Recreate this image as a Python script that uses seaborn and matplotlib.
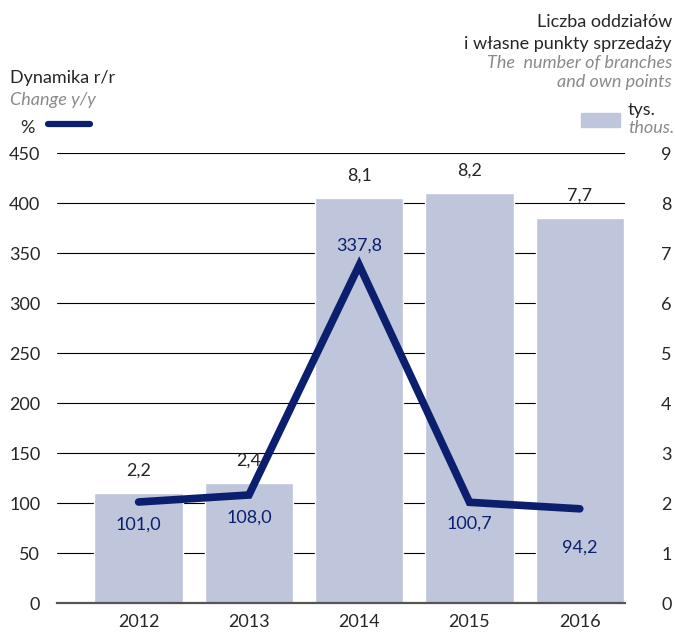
import numpy as np
import pandas as pd
import matplotlib.pyplot as plt
import seaborn as sns

# ---------------------------------------------------------
# Data
# ---------------------------------------------------------
years = ["2012", "2013", "2014", "2015", "2016"]
branches = [2.2, 2.4, 8.1, 8.2, 7.7]           # thous., right axis
change = [101.0, 108.0, 337.8, 100.7, 94.2]     # %, left axis
left_ticks = list(range(0, 451, 50))
right_ticks = list(range(0, 10))

bar_color = "#bfc5da"
line_color = "#0b1f6e"
grey_text = "#8a8a8a"

sns.set_style("white")
plt.rcParams["font.family"] = ["Lato", "DejaVu Sans"]

df = pd.DataFrame({"year": years, "branches": branches,
                   "pos": np.arange(len(years)), "change": change})

fig = plt.figure(figsize=(6.75, 6.32), dpi=100)
ax = fig.add_axes([57 / 675, 1 - 603 / 632, 568 / 675, 450 / 632])

# bars (thousands) on the primary axes so they sit under the line
sns.barplot(data=df, x="year", y="branches", color=bar_color, width=0.8,
            saturation=1, ax=ax)
ax.set_ylim(0, 9)
ax.set_xlim(-0.74, 4.41)
ax.set_yticks(right_ticks)
ax.grid(axis="y", color="black", lw=0.8)
ax.set_axisbelow(True)
for s in ["top", "left", "right"]:
    ax.spines[s].set_visible(False)
ax.spines["bottom"].set_color("#555555")
ax.spines["bottom"].set_linewidth(1.6)
ax.set_xlabel("")
ax.set_ylabel("")

for i, v in enumerate(branches):
    ax.annotate(f"{v:.1f}".replace(".", ","), (i, v), xytext=(0, 10),
                textcoords="offset points", ha="center", va="bottom",
                fontsize=13)

# line (% change) on the twin axes
ax2 = ax.twinx()
sns.lineplot(data=df, x="pos", y="change", color=line_color, lw=5.5,
             solid_capstyle="round", solid_joinstyle="miter", ax=ax2)
ax2.set_ylim(0, 450)
ax2.set_yticks(left_ticks)
ax2.yaxis.tick_left()
ax2.tick_params(axis="y", length=0, labelsize=13, pad=12)
for s in ax2.spines.values():
    s.set_visible(False)
ax2.set_xlabel("")
ax2.set_ylabel("")

# twinx moves the primary ticks to the left, put them back on the right
ax.yaxis.tick_right()
ax.tick_params(axis="both", length=0, labelsize=13)
ax.tick_params(axis="y", pad=26)
ax.tick_params(axis="x", pad=8)

offsets = [-16, -16, 14, -15, -28]
for i, (v, off) in enumerate(zip(change, offsets)):
    ax2.annotate(f"{v:.1f}".replace(".", ","), (i, v), xytext=(0, off),
                 textcoords="offset points", ha="center", va="center",
                 fontsize=13, color=line_color)

# legend / header texts
fig.text(10 / 675, 1 - 78 / 632, "Dynamika r/r", fontsize=13, va="center")
fig.text(10 / 675, 1 - 100 / 632, "Change y/y", fontsize=13, va="center",
         style="italic", color=grey_text)
fig.text(20 / 675, 1 - 128 / 632, "%", fontsize=13, va="center")
fig.add_artist(plt.Line2D([48 / 675, 90 / 675], [1 - 124 / 632] * 2,
                          color=line_color, lw=4.5))

rx = 672 / 675
fig.text(rx, 1 - 22 / 632, "Liczba oddziałów", fontsize=13, ha="right", va="center")
fig.text(rx, 1 - 44 / 632, "i własne punkty sprzedaży", fontsize=13, ha="right", va="center")
fig.text(rx, 1 - 63 / 632, "The  number of branches", fontsize=13, ha="right",
         va="center", style="italic", color=grey_text)
fig.text(rx, 1 - 82 / 632, "and own points", fontsize=13, ha="right",
         va="center", style="italic", color=grey_text)
fig.text(628 / 675, 1 - 110 / 632, "tys.", fontsize=13, va="center")
fig.text(628 / 675, 1 - 128 / 632, "thous.", fontsize=13, va="center",
         style="italic", color=grey_text)
fig.add_artist(plt.Rectangle((581 / 675, 1 - 127 / 632), 39 / 675, 14 / 632,
                             color=bar_color, transform=fig.transFigure))

fig.savefig("out.png", dpi=100)
